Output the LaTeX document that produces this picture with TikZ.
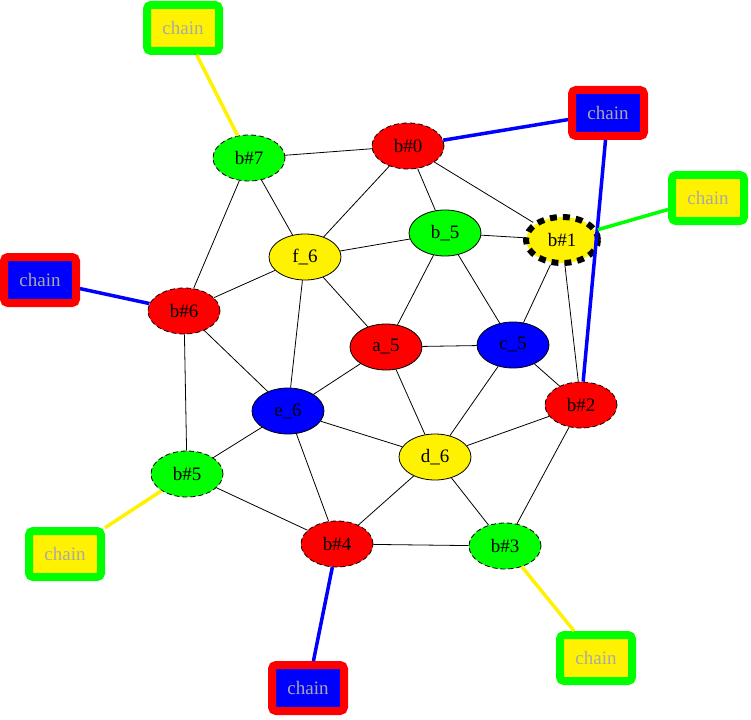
\documentclass[tikz,border=0pt]{standalone}
\usepackage{fontspec}
\setmainfont{Liberation Serif}
\usetikzlibrary{shapes.geometric}
\definecolor{chaintext}{RGB}{169,169,169}
\begin{document}
\begin{tikzpicture}[x=1pt,y=-1pt,
  font=\fontsize{19}{22}\selectfont,
  vnode/.style={ellipse,draw=black,line width=0.8pt,minimum width=72pt,minimum height=46pt,inner sep=0pt},
  bnode/.style={vnode,dash pattern=on 5pt off 3pt},
  bigdash/.style={vnode,line width=6pt,dash pattern=on 7pt off 6pt},
  chainbox/.style={rectangle,rounded corners=4pt,line width=8pt,minimum width=72pt,minimum height=46pt,inner sep=0pt,text=chaintext},
  redchain/.style={chainbox,draw=red,fill=blue},
  greenchain/.style={chainbox,draw=green,fill=yellow},
  edge/.style={draw=black,line width=0.8pt},
  cedge/.style={line width=3.5pt}]
\useasboundingbox (0,0) rectangle (751,719);
% vertices
\node[bnode,fill=red] (b0) at (408,146) {b\#0};
\node[bigdash,fill=yellow] (b1) at (562,240) {b\#1};
\node[bnode,fill=red] (b2) at (581,405) {b\#2};
\node[bnode,fill=green] (b3) at (505,546) {b\#3};
\node[bnode,fill=red] (b4) at (337,544) {b\#4};
\node[bnode,fill=green] (b5) at (187,474) {b\#5};
\node[bnode,fill=red] (b6) at (184,311) {b\#6};
\node[bnode,fill=green] (b7) at (249,158) {b\#7};
\node[vnode,fill=yellow] (f6) at (305,257) {f\_6};
\node[vnode,fill=green] (b_5) at (445,233) {b\_5};
\node[vnode,fill=red] (a5) at (386,347) {a\_5};
\node[vnode,fill=blue] (c5) at (513,345) {c\_5};
\node[vnode,fill=blue] (e6) at (288,411) {e\_6};
\node[vnode,fill=yellow] (d6) at (435,457) {d\_6};
% chains
\node[greenchain] (c7) at (183,28) {chain};
\node[redchain] (c0) at (608,113) {chain};
\node[greenchain] (c1) at (708,198) {chain};
\node[redchain] (cc6) at (40,280) {chain};
\node[greenchain] (cc5) at (65,554) {chain};
\node[redchain] (c4) at (308,688) {chain};
\node[greenchain] (c3) at (596,658) {chain};
% edges
\path[edge] (b7) -- (b0) (b7) -- (f6) (b7) -- (b6)
  (b0) -- (f6) (b0) -- (b_5) (b0) -- (b1)
  (f6) -- (b_5) (f6) -- (b6) (f6) -- (a5) (f6) -- (e6)
  (b_5) -- (b1) (b_5) -- (a5) (b_5) -- (c5)
  (b1) -- (c5) (b1) -- (b2)
  (b6) -- (e6) (b6) -- (b5)
  (a5) -- (c5) (a5) -- (e6) (a5) -- (d6)
  (c5) -- (b2) (c5) -- (d6)
  (e6) -- (b5) (e6) -- (b4) (e6) -- (d6)
  (d6) -- (b2) (d6) -- (b4) (d6) -- (b3)
  (b2) -- (b3) (b5) -- (b4) (b4) -- (b3);
% chain edges
\draw[cedge,yellow] (c7) -- (b7);
\draw[cedge,blue] (c0) -- (b0);
\draw[cedge,blue] (c0) -- (b2);
\draw[cedge,green] (c1) -- (b1);
\draw[cedge,blue] (cc6) -- (b6);
\draw[cedge,yellow] (cc5) -- (b5);
\draw[cedge,blue] (c4) -- (b4);
\draw[cedge,yellow] (c3) -- (b3);
\end{tikzpicture}
\end{document}
